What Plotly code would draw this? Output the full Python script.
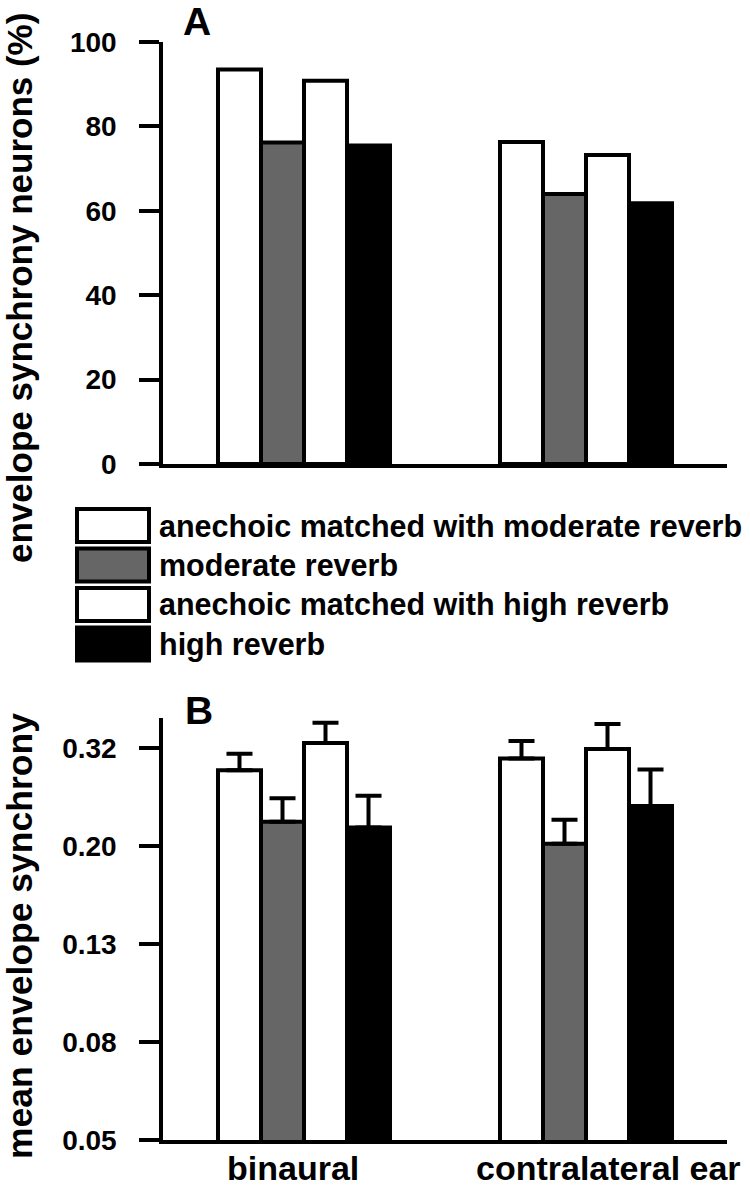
import plotly.graph_objects as go

# ---- data ----
categories = ["binaural", "contralateral ear"]
series_names = [
    "anechoic matched with moderate reverb",
    "moderate reverb",
    "anechoic matched with high reverb",
    "high reverb",
]
series_colors = ["#ffffff", "#666666", "#ffffff", "#000000"]

# Panel A: percentage of envelope-synchrony neurons
pct_anech_mod = [93.5, 76.3]
pct_mod = [76.2, 64.0]
pct_anech_high = [90.8, 73.2]
pct_high = [75.5, 61.8]

# Panel B: mean envelope synchrony (+ error)
sync_anech_mod = [0.284, 0.300]
sync_mod = [0.223, 0.201]
sync_anech_high = [0.323, 0.314]
sync_high = [0.217, 0.240]
err_anech_mod = [0.023, 0.026]
err_mod = [0.026, 0.024]
err_anech_high = [0.032, 0.039]
err_high = [0.035, 0.045]

a_ticks = [0, 20, 40, 60, 80, 100]
b_tick_vals = [0.05, 0.0792, 0.1256, 0.199, 0.3155]
b_tick_text = ["0.05", "0.08", "0.13", "0.20", "0.32"]

panel_a = [pct_anech_mod, pct_mod, pct_anech_high, pct_high]
panel_b = [sync_anech_mod, sync_mod, sync_anech_high, sync_high]
panel_b_err = [err_anech_mod, err_mod, err_anech_high, err_high]

# ---- layout helpers ----
W, H = 750, 1186
def px(x):
    return x / W
def py(y):
    return 1 - y / H

FONT = "Liberation Sans, Arial, sans-serif"
LW = 4

fig = go.Figure()
for name, col, vals in zip(series_names, series_colors, panel_a):
    fig.add_trace(go.Bar(x=categories, y=vals, name=name, marker=dict(color=col, line=dict(color="black", width=LW)),
                         xaxis="x", yaxis="y", showlegend=False))
for name, col, vals, err in zip(series_names, series_colors, panel_b, panel_b_err):
    fig.add_trace(go.Bar(x=categories, y=vals, name=name, marker=dict(color=col, line=dict(color="black", width=LW)),
                         error_y=dict(type="data", array=err, arrayminus=[0] * len(err), symmetric=False,
                                      color="black", thickness=LW, width=13),
                         xaxis="x2", yaxis="y2", showlegend=False))

tickfont = dict(family=FONT, size=28, color="black", weight="bold")
common_y = dict(showline=True, linewidth=3.5, linecolor="black", ticks="outside", ticklen=20, tickwidth=3.5,
                tickcolor="black", showgrid=False, zeroline=False, tickfont=tickfont, ticklabelstandoff=17,
                automargin=False)
common_x = dict(type="category", categoryorder="array", categoryarray=categories, range=[-0.5, 1.5],
                showline=True, linewidth=3.5, linecolor="black", ticks="", showticklabels=False,
                showgrid=False, zeroline=False, automargin=False)

fig.update_layout(
    width=W, height=H, autosize=False,
    margin=dict(l=0, r=0, t=0, b=0, pad=0, autoexpand=False),
    paper_bgcolor="white", plot_bgcolor="white",
    barmode="group", bargap=0.39, bargroupgap=0,
    xaxis=dict(domain=[px(163), px(727)], anchor="y", **common_x),
    yaxis=dict(domain=[py(464), py(42)], anchor="x", range=[0, 100], tickvals=a_ticks,
               ticktext=[str(t) for t in a_ticks], **common_y),
    xaxis2=dict(domain=[px(163), px(727)], anchor="y2", **common_x),
    yaxis2=dict(domain=[py(1140), py(718)], anchor="x2", type="log", range=[-1.30103, -0.4400],
                tickvals=b_tick_vals, ticktext=b_tick_text, **common_y),
)

annotations = []
shapes = []
# axis titles
annotations.append(dict(text="envelope synchrony neurons (%)", textangle=-90, x=px(20), y=py(288),
                        xref="paper", yref="paper", xanchor="center", yanchor="middle", showarrow=False,
                        font=dict(family=FONT, size=35, color="black", weight="bold")))
annotations.append(dict(text="mean envelope synchrony", textangle=-90, x=px(20), y=py(936),
                        xref="paper", yref="paper", xanchor="center", yanchor="middle", showarrow=False,
                        font=dict(family=FONT, size=35.5, color="black", weight="bold")))
# panel letters
for letter, cx, cy in [("A", 197, 21), ("B", 199, 710)]:
    annotations.append(dict(text=letter, x=px(cx), y=py(cy), xref="paper", yref="paper", xanchor="center",
                            yanchor="middle", showarrow=False,
                            font=dict(family=FONT, size=39, color="black", weight="bold")))
# category labels for panel B
for cat, shift in zip(categories, [-11, 22]):
    annotations.append(dict(text=cat, x=cat, xref="x2", y=py(1168), yref="paper", xanchor="center",
                            yanchor="middle", xshift=shift, showarrow=False,
                            font=dict(family=FONT, size=34, color="black", weight="bold")))
# legend
for i, (name, col) in enumerate(zip(series_names, series_colors)):
    top = 507 + i * 39.5
    shapes.append(dict(type="rect", xref="paper", yref="paper", x0=px(77), x1=px(149), y0=py(top + 2),
                       y1=py(top + 35), fillcolor=col, line=dict(color="black", width=LW)))
    annotations.append(dict(text=name, x=px(157), y=py(top + 18.5), xref="paper", yref="paper",
                            xanchor="left", yanchor="middle", showarrow=False,
                            font=dict(family=FONT, size=30.5, color="black", weight="bold")))

fig.update_layout(annotations=annotations, shapes=shapes)
fig.write_html("out.html", config={"displayModeBar": False},
               post_script="document.body.style.margin='0px';document.body.style.padding='0px';")
